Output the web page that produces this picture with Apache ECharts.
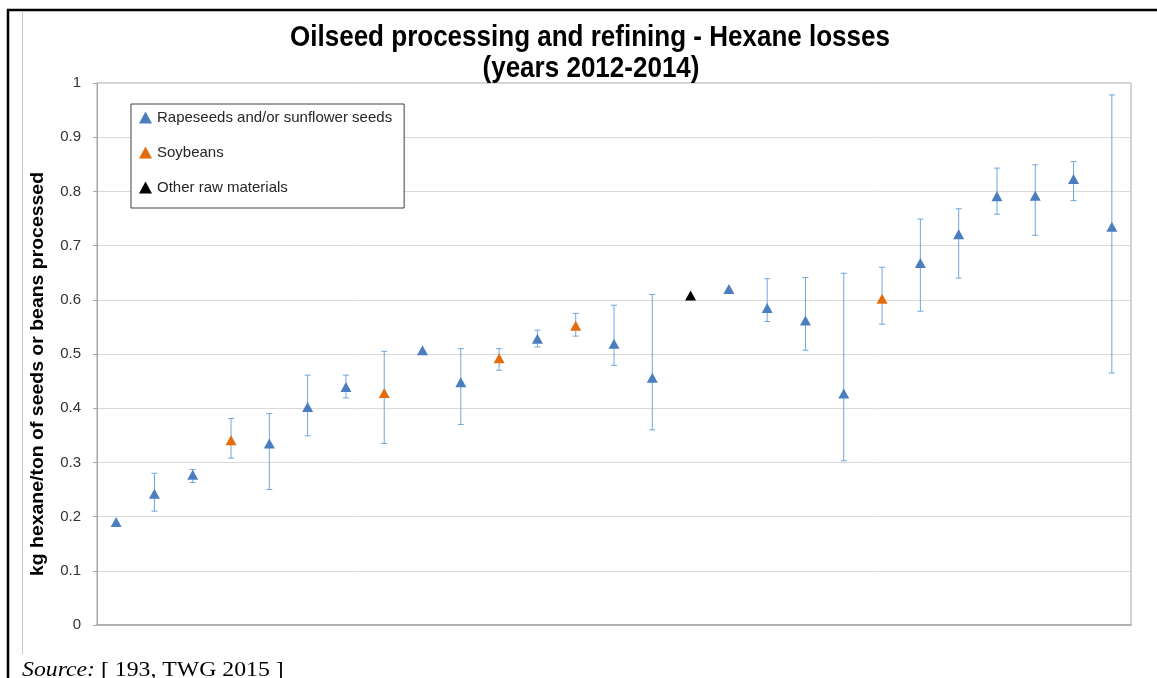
<!DOCTYPE html>
<html>
<head>
<meta charset="utf-8">
<script src="https://cdn.jsdelivr.net/npm/echarts@6/dist/echarts.min.js"></script>
<style>
html,body{margin:0;padding:0;background:#fff;}
#chart{width:1157px;height:678px;}
</style>
</head>
<body>
<div id="chart"></div>
<script>
// ---- data ----
const categories = ['1','2','3','4','5','6','7','8','9','10','11','12','13','14','15','16','17','18','19','20','21','22','23','24','25','26','27'];
const values = [0.19, 0.242, 0.277, 0.341, 0.335, 0.402, 0.439, 0.428, 0.507, 0.448, 0.492, 0.528, 0.552, 0.519, 0.456, 0.608, 0.62, 0.585, 0.562, 0.427, 0.602, 0.668, 0.721, 0.791, 0.792, 0.823, 0.735];
const lows   = [null, 0.21, 0.263, 0.308, 0.25, 0.349, 0.419, 0.335, null, 0.37, 0.47, 0.513, 0.533, 0.479, 0.36, null, null, 0.56, 0.507, 0.303, 0.555, 0.579, 0.64, 0.758, 0.719, 0.783, 0.465];
const highs  = [null, 0.28, 0.287, 0.381, 0.39, 0.461, 0.461, 0.505, null, 0.51, 0.51, 0.544, 0.575, 0.59, 0.61, null, null, 0.639, 0.641, 0.649, 0.66, 0.749, 0.768, 0.843, 0.849, 0.855, 0.978];
const materials = ['R','R','R','S','R','R','R','S','R','R','S','R','S','R','R','O','R','R','R','R','S','R','R','R','R','R','R'];
const seriesNames = {R:'Rapeseeds and/or sunflower seeds', S:'Soybeans', O:'Other raw materials'};
const seriesColors = {R:'#4A7EBE', S:'#E46C0A', O:'#000000'};
const yTicks = [0,0.1,0.2,0.3,0.4,0.5,0.6,0.7,0.8,0.9,1];

const chart = echarts.init(document.getElementById('chart'));

const errData = [];
values.forEach((v,i)=>{ if(lows[i]!=null) errData.push([i, lows[i], highs[i]]); });

function seriesFor(key){
  return {
    type:'scatter', name:seriesNames[key], z:3,
    symbol:'triangle', symbolSize:[11,10],
    itemStyle:{color:seriesColors[key], opacity:1},
    data: values.map((v,i)=> materials[i]===key ? v : '-')
  };
}

const option = {
  animation:false,
  backgroundColor:'#fff',
  grid:{left:97, right:26, top:83, bottom:53, show:true, borderColor:'#A6A6A6', borderWidth:1, backgroundColor:'transparent'},
  xAxis:{type:'category', data:categories, boundaryGap:true,
    axisLabel:{show:false}, axisTick:{show:false},
    axisLine:{lineStyle:{color:'#A6A6A6', width:1.5}}, splitLine:{show:false}},
  yAxis:{type:'value', min:0, max:1, interval:0.1,
    axisLine:{show:true, lineStyle:{color:'#A6A6A6'}},
    axisTick:{show:true, length:4, lineStyle:{color:'#A6A6A6'}},
    axisLabel:{fontSize:15, color:'#333', margin:16, fontFamily:'Liberation Sans, Arial, sans-serif',
      formatter:(v)=>{ const t = yTicks.find(x=>Math.abs(x-v)<1e-9); return String(t!==undefined?t:+v.toFixed(1)); }},
    splitLine:{lineStyle:{color:'#D9D9D9'}}},
  legend:{
    orient:'vertical', left:131, top:104,
    padding:[6,12,13,8], itemGap:20, itemWidth:13, itemHeight:12,
    borderColor:'#404040', borderWidth:1, backgroundColor:'#fff',
    icon:'triangle',
    textStyle:{fontSize:15, color:'#262626', fontFamily:'Liberation Sans, Arial, sans-serif'},
    data:[seriesNames.R, seriesNames.S, seriesNames.O]
  },
  graphic:[
    {type:'line', shape:{x1:7, y1:10, x2:1157, y2:10}, style:{stroke:'#000', lineWidth:2.5}, silent:true},
    {type:'line', shape:{x1:8, y1:9, x2:8, y2:678}, style:{stroke:'#000', lineWidth:2.5}, silent:true},
    {type:'line', shape:{x1:22.5, y1:12, x2:22.5, y2:654}, style:{stroke:'#C8C8C8', lineWidth:1}, silent:true},
    {type:'text', x:590, y:38, scaleX:0.897, style:{text:'Oilseed processing and refining - Hexane losses', fill:'#000',
      font:'bold 29px "Liberation Sans", Arial, sans-serif', textAlign:'center', textVerticalAlign:'middle'}},
    {type:'text', x:591, y:69, scaleX:0.897, style:{text:'(years 2012-2014)', fill:'#000',
      font:'bold 29px "Liberation Sans", Arial, sans-serif', textAlign:'center', textVerticalAlign:'middle'}},
    {type:'text', x:38, y:374, rotation:Math.PI/2, scaleX:1.08, style:{text:'kg hexane/ton of seeds or beans processed', fill:'#000',
      font:'bold 18px "Liberation Sans", Arial, sans-serif', textAlign:'center', textVerticalAlign:'middle'}},
    {type:'text', x:22, y:670, scaleX:1.08, style:{
      text:'{i|Source:} [ 193, TWG 2015 ]',
      rich:{i:{fontStyle:'italic', fontSize:22, fontFamily:'"Liberation Serif", "Times New Roman", serif', fill:'#000'}},
      fontSize:22, fontFamily:'"Liberation Serif", "Times New Roman", serif', fill:'#000',
      textAlign:'left', textVerticalAlign:'middle'}}
  ],
  series:[
    {type:'custom', name:'err', z:2, silent:true,
      renderItem:function(params, api){
        const x = api.value(0), lo = api.value(1), hi = api.value(2);
        const pTop = api.coord([x, hi]);
        const pBot = api.coord([x, lo]);
        const hw = 3;
        const st = {stroke:'#6FA6DC', lineWidth:1};
        return {type:'group', children:[
          {type:'line', shape:{x1:pTop[0], y1:pTop[1], x2:pBot[0], y2:pBot[1]}, style:st},
          {type:'line', shape:{x1:pTop[0]-hw, y1:pTop[1], x2:pTop[0]+hw, y2:pTop[1]}, style:st},
          {type:'line', shape:{x1:pBot[0]-hw, y1:pBot[1], x2:pBot[0]+hw, y2:pBot[1]}, style:st}
        ]};
      },
      encode:{x:0, y:[1,2]},
      data:errData
    },
    seriesFor('R'), seriesFor('S'), seriesFor('O')
  ]
};
chart.setOption(option);
</script>
</body>
</html>
